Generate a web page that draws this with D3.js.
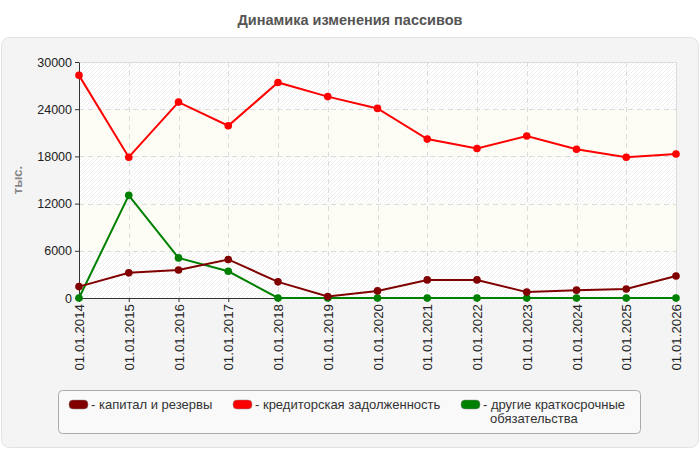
<!DOCTYPE html>
<html>
<head>
<meta charset="utf-8">
<script src="https://cdn.jsdelivr.net/npm/d3@7"></script>
<style>
  body { margin: 0; background: #fff; font-family: "Liberation Sans", Arial, sans-serif; }
</style>
</head>
<body>
<div class="lineChart"></div>
<script>
var dates = ["01.01.2014", "01.01.2015", "01.01.2016", "01.01.2017", "01.01.2018", "01.01.2019", "01.01.2020",
  "01.01.2021", "01.01.2022", "01.01.2023", "01.01.2024", "01.01.2025", "01.01.2026"];
var capital = [1450, 3200, 3550, 4900, 2050, 200, 900, 2300, 2300, 750, 1000, 1150, 2800];
var payables = [28300, 17900, 24900, 21900, 27400, 25600, 24100, 20200, 19000, 20600, 18900, 17900, 18300];
var otherShort = [0, 13050, 5100, 3400, 0, 0, 0, 0, 0, 0, 0, 0, 0];
var yTicks = [0, 6000, 12000, 18000, 24000, 30000];
var seriesNames = ["капитал и резервы", "кредиторская задолженность", "другие краткосрочные обязательства"];
var seriesColors = ["#800000", "#ff0000", "#008000"];

function init() {
  var w = 700;
  var h = 450;
  var left = 79, right = 676, top = 62, bottom = 298;

  var svg = d3.select(".lineChart")
    .append("svg")
    .attr("width", w)
    .attr("height", h);

  var defs = svg.append("defs");
  var pat = defs.append("pattern")
    .attr("id", "hatch")
    .attr("patternUnits", "userSpaceOnUse")
    .attr("width", 4)
    .attr("height", 4);
  pat.append("rect").attr("width", 4).attr("height", 4).attr("fill", "#ffffff");
  pat.append("path")
    .attr("d", "M-1,1 l2,-2 M0,4 l4,-4 M3,5 l2,-2")
    .attr("stroke", "#eeeeee")
    .attr("stroke-width", 1);

  // outer panel
  svg.append("rect")
    .attr("x", 1.5).attr("y", 37.5)
    .attr("width", 697).attr("height", 410)
    .attr("rx", 8)
    .attr("fill", "#f4f4f4")
    .attr("stroke", "#e2e2e2");

  svg.append("text")
    .attr("x", 350).attr("y", 25)
    .attr("text-anchor", "middle")
    .attr("font-size", "14.5px")
    .attr("font-weight", "bold")
    .attr("fill", "#555")
    .text("Динамика изменения пассивов");

  var xScale = d3.scalePoint()
    .domain(dates)
    .range([left, right]);

  var yScale = d3.scaleLinear()
    .domain([0, 30000])
    .range([bottom, top]);

  // background bands
  svg.selectAll("rect.band")
    .data(d3.pairs(yTicks))
    .enter()
    .append("rect")
    .attr("class", "band")
    .attr("x", left)
    .attr("width", right - left)
    .attr("y", function(d) { return yScale(d[1]); })
    .attr("height", function(d) { return yScale(d[0]) - yScale(d[1]); })
    .attr("fill", function(d, i) { return i % 2 === 0 ? "url(#hatch)" : "#fdfdf6"; });

  // grid
  svg.append("g")
    .selectAll("line")
    .data(yTicks.slice(1, -1))
    .enter()
    .append("line")
    .attr("x1", left).attr("x2", right)
    .attr("y1", function(d) { return Math.round(yScale(d)) + 0.5; })
    .attr("y2", function(d) { return Math.round(yScale(d)) + 0.5; })
    .attr("stroke", "#dcdcdc")
    .attr("stroke-dasharray", "5,4");

  svg.append("g")
    .selectAll("line")
    .data(dates.slice(1, -1))
    .enter()
    .append("line")
    .attr("x1", function(d) { return Math.round(xScale(d)) + 0.5; })
    .attr("x2", function(d) { return Math.round(xScale(d)) + 0.5; })
    .attr("y1", top).attr("y2", bottom)
    .attr("stroke", "#dcdcdc")
    .attr("stroke-dasharray", "5,4");

  // frame top and right
  svg.append("path")
    .attr("d", "M" + left + "," + (top + 0.5) + "H" + (right + 0.5) + "V" + bottom)
    .attr("fill", "none")
    .attr("stroke", "#dcdcdc");

  var xAxis = d3.axisBottom(xScale).tickSize(4).tickSizeOuter(0);
  var gx = svg.append("g")
    .attr("transform", "translate(0," + bottom + ")")
    .call(xAxis);
  gx.select(".domain").attr("stroke", "#333");
  gx.selectAll(".tick line").attr("stroke", "#333");
  gx.selectAll("text")
    .attr("font-family", "Liberation Sans, Arial, sans-serif")
    .attr("font-size", "13.3px")
    .attr("fill", "#222")
    .attr("text-anchor", "end")
    .attr("dx", "-6px")
    .attr("dy", "0.34em")
    .attr("transform", "rotate(-90)")
    .attr("x", 0).attr("y", 0);

  var yAxis = d3.axisLeft(yScale).tickValues(yTicks).tickFormat(d3.format("d")).tickSize(4).tickSizeOuter(0);
  var gy = svg.append("g")
    .attr("transform", "translate(" + left + ",0)")
    .call(yAxis);
  gy.select(".domain").attr("stroke", "#333");
  gy.selectAll(".tick line").attr("stroke", "#333");
  gy.selectAll("text")
    .attr("font-family", "Liberation Sans, Arial, sans-serif")
    .attr("font-size", "12.5px")
    .attr("fill", "#222");

  svg.append("text")
    .attr("transform", "translate(22,180) rotate(-90)")
    .attr("text-anchor", "middle")
    .attr("font-size", "13px")
    .attr("font-weight", "bold")
    .attr("fill", "#888")
    .text("тыс.");

  var line = d3.line()
    .x(function(d, i) { return xScale(dates[i]); })
    .y(function(d) { return yScale(d); });

  var allSeries = [capital, payables, otherShort];
  [2, 0, 1].forEach(function(k) {
    var g = svg.append("g");
    g.append("path")
      .datum(allSeries[k])
      .attr("d", line)
      .attr("fill", "none")
      .attr("stroke", seriesColors[k])
      .attr("stroke-width", 2);
    g.selectAll("circle")
      .data(allSeries[k])
      .enter()
      .append("circle")
      .attr("cx", function(d, i) { return xScale(dates[i]); })
      .attr("cy", function(d) { return yScale(d); })
      .attr("r", 3.8)
      .attr("fill", seriesColors[k]);
  });

  // legend
  var lg = svg.append("g");
  lg.append("rect")
    .attr("x", 58.5).attr("y", 390.5)
    .attr("width", 582).attr("height", 43)
    .attr("rx", 4)
    .attr("fill", "#f9f9f9")
    .attr("stroke", "#aaa");

  var legendX = [69, 233, 461];
  seriesNames.forEach(function(name, i) {
    lg.append("rect")
      .attr("x", legendX[i]).attr("y", 400)
      .attr("width", 19).attr("height", 9)
      .attr("rx", 4)
      .attr("fill", seriesColors[i])
      .attr("stroke", "#888")
      .attr("stroke-width", 0.5);
    var t = lg.append("text")
      .attr("x", legendX[i] + 22)
      .attr("y", 409)
      .attr("font-size", "13px")
      .attr("fill", "#333");
    if (i === 2) {
      t.append("tspan").text("- другие краткосрочные");
      t.append("tspan").attr("x", legendX[i] + 29).attr("dy", 14).text("обязательства");
    } else {
      t.text("- " + name);
    }
  });
}

window.onload = init;
</script>
</body>
</html>
